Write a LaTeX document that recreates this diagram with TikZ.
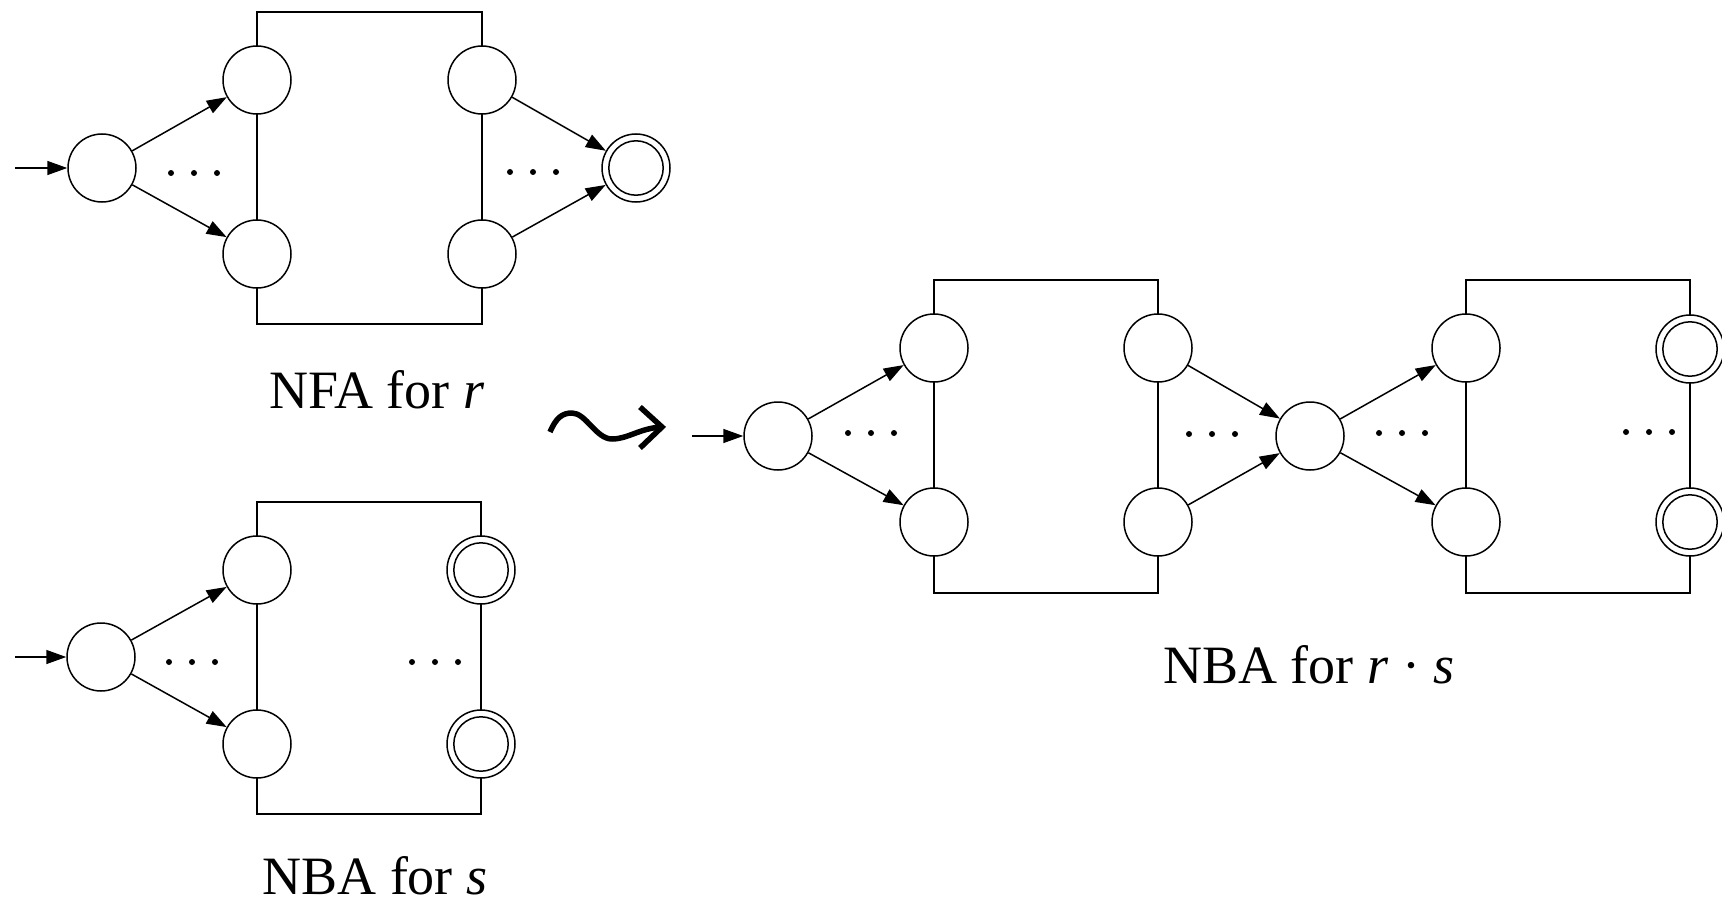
\documentclass[tikz,border=0pt]{standalone}
\usepackage{fontspec}
\setmainfont{Liberation Serif}
\usetikzlibrary{arrows.meta,backgrounds}
\begin{document}
\begin{tikzpicture}[x=0.5pt,y=-0.5pt,
  st/.style={circle,draw,fill=white,line width=0.75pt,minimum size=34pt,inner sep=0pt},
  acc/.style={st,path picture={\draw[line width=0.75pt] (path picture bounding box.center) circle[radius=13.6pt];}},
  tr/.style={line width=0.75pt,-{Triangle[length=10pt,width=7pt]}},
  boxline/.style={line width=0.65pt},
  lbl/.style={font=\fontsize{27}{32}\selectfont,anchor=base,inner sep=0pt},
  dotfill/.style={fill=black}]
\useasboundingbox (0,0) rectangle (1722,904);

% ---------- NFA for r ----------
\node[st] (a0) at (102,168) {};
\node[st] (a1) at (257,80) {};
\node[st] (a2) at (257,254) {};
\node[st] (a3) at (482,80) {};
\node[st] (a4) at (482,254) {};
\node[acc] (a5) at (636,168) {};
\coordinate (ain) at (15,168);
\coordinate (atop) at (0,12);
\coordinate (abot) at (0,324);
\begin{scope}[on background layer]
  \draw[boxline] (a1 |- atop) rectangle (a4 |- abot);
\end{scope}
\draw[tr] (ain) -- (a0);
\draw[tr] (a0) -- (a1);
\draw[tr] (a0) -- (a2);
\draw[tr] (a3) -- (a5);
\draw[tr] (a4) -- (a5);
\foreach \x/\y in {194/173,533/172}
  \foreach \d in {-23,0,23}
    \fill[dotfill] (\x+\d,\y) circle[radius=1.5pt];
\node[lbl] (la) at (377,408) {NFA for \textit{r}};

% ---------- NBA for s ----------
\node[st] (b0) at (101,657) {};
\node[st] (b1) at (257,570) {};
\node[st] (b2) at (257,744) {};
\node[acc] (b3) at (481,570) {};
\node[acc] (b4) at (481,744) {};
\coordinate (bin) at (15,657);
\coordinate (btop) at (0,502);
\coordinate (bbot) at (0,814);
\begin{scope}[on background layer]
  \draw[boxline] (b1 |- btop) rectangle (b4 |- bbot);
\end{scope}
\draw[tr] (bin) -- (b0);
\draw[tr] (b0) -- (b1);
\draw[tr] (b0) -- (b2);
\foreach \x/\y in {192/662,435/662}
  \foreach \d in {-23,0,23}
    \fill[dotfill] (\x+\d,\y) circle[radius=1.5pt];
\node[lbl] (lb) at (375,894) {NBA for \textit{s}};

% ---------- leadsto ----------
\draw[line width=2.75pt,line join=round]
  (550,432) .. controls (556,418) and (562,413) .. (572,413)
  .. controls (586,413) and (596,439) .. (612,439)
  .. controls (628,439) and (640,428) .. (662,427);
\draw[line width=2.75pt,line join=miter]
  (640,407) -- (662,427) -- (640,448);

% ---------- NBA for r.s ----------
\node[st] (c0) at (778,436) {};
\node[st] (c1) at (934,348) {};
\node[st] (c2) at (934,522) {};
\node[st] (c3) at (1158,348) {};
\node[st] (c4) at (1158,522) {};
\node[st] (m) at (1310,436) {};
\node[st] (e1) at (1466,348) {};
\node[st] (e2) at (1466,522) {};
\node[acc] (e3) at (1690,349) {};
\node[acc] (e4) at (1690,522) {};
\coordinate (cin) at (692,436);
\coordinate (ctop) at (0,280);
\coordinate (cbot) at (0,593);
\begin{scope}[on background layer]
  \draw[boxline] (c1 |- ctop) rectangle (c4 |- cbot);
  \draw[boxline] (e1 |- ctop) rectangle (e4 |- cbot);
\end{scope}
\draw[tr] (cin) -- (c0);
\draw[tr] (c0) -- (c1);
\draw[tr] (c0) -- (c2);
\draw[tr] (c3) -- (m);
\draw[tr] (c4) -- (m);
\draw[tr] (m) -- (e1);
\draw[tr] (m) -- (e2);
\foreach \x/\y in {871/433,1212/434,1402/433,1649/432}
  \foreach \d in {-23,0,23}
    \fill[dotfill] (\x+\d,\y) circle[radius=1.5pt];
\node[lbl] (lc) at (1309,683) {NBA for \textit{r} · \textit{s}};
\end{tikzpicture}
\end{document}
